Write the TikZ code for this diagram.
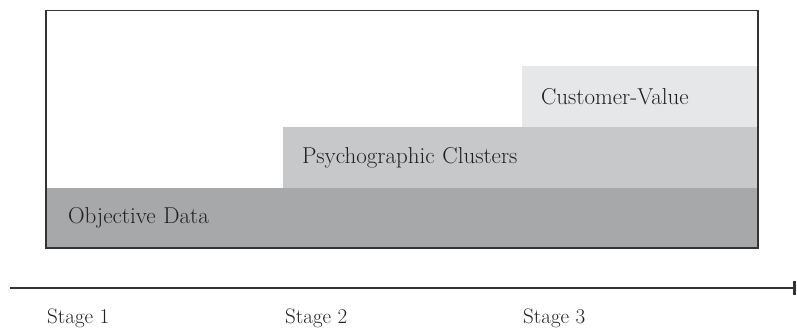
\documentclass[tikz,border=0pt]{standalone}
\usetikzlibrary{arrows.meta}
\definecolor{objfill}{HTML}{A7A8AA}
\definecolor{psyfill}{HTML}{C7C8CA}
\definecolor{custfill}{HTML}{E6E7E8}
\definecolor{framecol}{HTML}{333333}
\definecolor{textcol}{HTML}{231F20}
\tikzset{
  layer/.style={anchor=north west, inner ysep=0pt, outer sep=0pt, align=left, font=\fontsize{23}{27}\selectfont, text=textcol},
  stagelabel/.style={anchor=west, inner sep=0pt, font=\fontsize{21}{25}\selectfont, text=textcol},
}
\begin{document}
\begin{tikzpicture}[x=1pt,y=-1pt]
\useasboundingbox (0,0) rectangle (797,331);
\node[layer, fill=objfill, minimum width=712pt, minimum height=59pt, inner xsep=23pt, text width=666pt] (obj) at (45,188) {Objective Data};
\node[layer, fill=psyfill, minimum width=474pt, minimum height=61pt, inner xsep=19pt, text width=436pt] (psy) at (283,127) {Psychographic Clusters};
\node[layer, fill=custfill, minimum width=235pt, minimum height=61pt, inner xsep=19pt, text width=197pt] (cust) at (522,66) {Customer-Value};
\node[draw=framecol, line width=1.5pt, anchor=north west, inner sep=0pt, minimum width=712pt, minimum height=237pt] (frame) at (45,10) {};
\coordinate (axstart) at (10,288);
\coordinate (axend) at (796,288);
\draw[framecol, line width=1.3pt, -{Rectangle[length=3pt,width=14pt]}] (axstart) -- (axend);
\node[stagelabel] (s1) at (47,318) {Stage 1};
\node[stagelabel] (s2) at (285,318) {Stage 2};
\node[stagelabel] (s3) at (523,318) {Stage 3};
\end{tikzpicture}
\end{document}
